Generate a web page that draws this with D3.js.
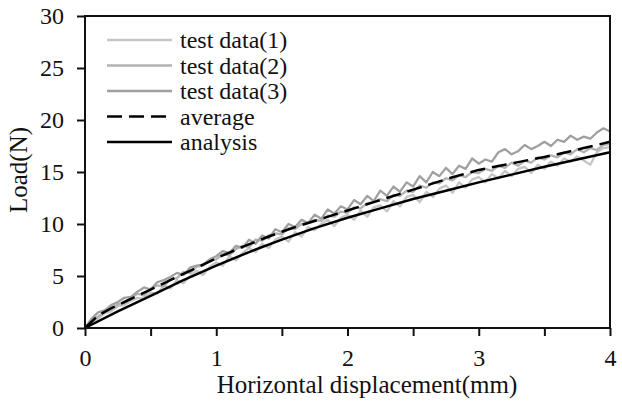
<!DOCTYPE html>
<html>
<head>
<meta charset="utf-8">
<script src="https://cdn.jsdelivr.net/npm/d3@7"></script>
<style>
  body { margin: 0; background: #fff; }
  text { font-family: "Liberation Serif", "Times New Roman", serif; fill: #111; }
</style>
</head>
<body>
<div class="home"></div>
<script>
const width = 622;
const height = 403;

// load readings, one every 0.05 mm from 0 to 4 mm
const test1 = [0, 0.5, 0.9, 1.4, 1.6, 2.1, 2.2, 2.6, 2.9, 2.8, 3.4, 3.3, 4.1, 3.8, 4.6, 4.3, 5.0, 5.5, 5.1, 5.9,
  6.3, 6.0, 6.9, 6.5, 7.2, 7.7, 7.3, 8.1, 7.7, 8.5, 8.8, 8.3, 9.2, 8.8, 9.7, 9.4, 10.0, 10.4, 9.8, 10.6,
  10.9, 10.4, 11.3, 10.7, 11.6, 11.8, 11.2, 12.2, 11.7, 12.6, 12.8, 12.1, 13.1, 12.6, 13.4, 13.7, 13.0, 14.0, 13.5, 14.3,
  14.5, 14.0, 14.8, 14.4, 15.1, 14.6, 15.3, 15.5, 14.9, 15.7, 15.3, 16.0, 15.6, 16.3, 16.0, 16.5, 16.1, 15.7, 16.9, 17.3, 17.4];
const test2 = [0, 0.8, 1.1, 1.6, 1.8, 2.3, 2.4, 2.9, 3.3, 3.1, 3.8, 4.1, 4.0, 4.7, 4.8, 5.4, 5.3, 5.9, 6.0, 6.5,
  6.6, 7.1, 7.0, 7.6, 7.9, 7.8, 8.5, 8.4, 8.9, 9.1, 9.0, 9.6, 9.5, 10.0, 10.1, 10.4, 10.3, 10.8, 10.7, 11.2,
  11.1, 11.6, 11.5, 12.0, 12.1, 12.4, 12.2, 12.8, 12.7, 13.2, 13.1, 13.7, 13.5, 14.0, 13.9, 14.4, 14.2, 14.7, 14.5, 15.0,
  14.9, 15.3, 15.1, 15.6, 15.4, 15.9, 15.6, 16.1, 15.9, 16.4, 16.2, 16.6, 16.4, 16.9, 16.7, 17.2, 16.9, 17.3, 17.1, 17.6, 17.7];
const test3 = [0, 0.9, 1.5, 1.7, 2.2, 2.5, 2.9, 3.0, 3.5, 3.9, 3.7, 4.4, 4.6, 4.9, 5.3, 5.1, 5.8, 6.0, 6.1, 6.6,
  6.9, 7.4, 7.2, 7.9, 7.7, 8.5, 8.1, 8.9, 8.6, 9.5, 9.2, 10.0, 9.7, 10.4, 10.1, 10.9, 10.5, 11.4, 11.0, 11.7,
  11.4, 12.3, 11.9, 12.7, 12.2, 13.2, 12.7, 13.6, 13.1, 14.0, 13.6, 14.6, 14.0, 15.0, 14.6, 15.4, 14.8, 15.6, 15.3, 16.3,
  15.8, 16.2, 16.0, 16.9, 17.2, 16.7, 17.0, 17.6, 17.2, 17.5, 17.9, 17.5, 18.1, 17.9, 18.5, 18.1, 18.4, 18.2, 18.8, 19.2, 18.9];
const testStep = 0.05;

// average of the tests, every 0.1 mm
const average = [0, 1.2, 1.9, 2.5, 3.1, 3.7, 4.3, 4.9, 5.5, 6.1, 6.7, 7.25, 7.8, 8.3, 8.8, 9.25, 9.7, 10.1, 10.5, 10.9,
  11.3, 11.7, 12.1, 12.5, 12.9, 13.3, 13.7, 14.1, 14.5, 14.85, 15.2, 15.45, 15.7, 15.95, 16.2, 16.45, 16.7, 17.0, 17.3, 17.6, 17.9];
const averageStep = 0.1;

// analysis curve, every 0.25 mm
const analysis = [0, 1.6, 3.1, 4.6, 6.0, 7.3, 8.5, 9.6, 10.6, 11.5, 12.4, 13.2, 14.0, 14.75, 15.5, 16.2, 16.9];
const analysisStep = 0.25;

const xTicks = [0, 0.5, 1, 1.5, 2, 2.5, 3, 3.5, 4];
const yTicks = [0, 5, 10, 15, 20, 25, 30];
const legendNames = ["test data(1)", "test data(2)", "test data(3)", "average", "analysis"];

const svg = d3.select(".home").append("svg")
  .attr("width", width)
  .attr("height", height);

const x = d3.scaleLinear().domain([0, 4]).range([85, 610]);
const y = d3.scaleLinear().domain([0, 30]).range([328, 16]);

const toPoints = (arr, step) => arr.map((v, i) => [i * step, v]);
const line = d3.line().x(d => x(d[0])).y(d => y(d[1]));

const series = [
  {name: legendNames[0], pts: toPoints(test1, testStep), color: "#c6c6c6", w: 2.3, dash: null},
  {name: legendNames[1], pts: toPoints(test2, testStep), color: "#b2b2b2", w: 2.3, dash: null},
  {name: legendNames[2], pts: toPoints(test3, testStep), color: "#a0a0a0", w: 2.3, dash: null},
  {name: legendNames[3], pts: toPoints(average, averageStep), color: "#000", w: 2.5, dash: "15,7"},
  {name: legendNames[4], pts: toPoints(analysis, analysisStep), color: "#000", w: 2.5, dash: null}
];

// curves
svg.selectAll("path.curve")
  .data(series)
  .enter()
  .append("path")
  .attr("class", "curve")
  .attr("d", d => line(d.pts))
  .attr("fill", "none")
  .attr("stroke", d => d.color)
  .attr("stroke-width", d => d.w)
  .attr("stroke-dasharray", d => d.dash)
  .attr("stroke-linejoin", "round");

// frame
svg.append("rect")
  .attr("x", x(0)).attr("y", y(30))
  .attr("width", x(4) - x(0)).attr("height", y(0) - y(30))
  .attr("fill", "none").attr("stroke", "#111").attr("stroke-width", 2);

// axes
const xAxis = svg.append("g")
  .attr("transform", "translate(0," + y(0) + ")")
  .call(d3.axisBottom(x).tickValues(xTicks)
    .tickFormat(d => Number.isInteger(d) ? d : "")
    .tickSize(8).tickSizeOuter(0).tickPadding(13));
const yAxis = svg.append("g")
  .attr("transform", "translate(" + x(0) + ",0)")
  .call(d3.axisLeft(y).tickValues(yTicks).tickSize(8).tickSizeOuter(0).tickPadding(13));

[xAxis, yAxis].forEach(g => {
  g.select(".domain").remove();
  g.selectAll("line").attr("stroke", "#111").attr("stroke-width", 2);
  g.selectAll("text").attr("font-size", 24).attr("font-family", "Liberation Serif").attr("fill", "#111");
});

// axis titles
svg.append("text")
  .attr("x", 367).attr("y", 393)
  .attr("text-anchor", "middle")
  .attr("font-size", 25)
  .text("Horizontal displacement(mm)");
svg.append("text")
  .attr("transform", "translate(27,170) rotate(-90)")
  .attr("text-anchor", "middle")
  .attr("font-size", 25)
  .text("Load(N)");

// legend
const legend = svg.append("g");
series.forEach((s, i) => {
  const ly = 40 + i * 25.5;
  legend.append("line")
    .attr("x1", 107).attr("x2", 172).attr("y1", ly).attr("y2", ly)
    .attr("stroke", s.color).attr("stroke-width", s.w)
    .attr("stroke-dasharray", s.dash);
  legend.append("text")
    .attr("x", 180).attr("y", ly + 8)
    .attr("font-size", 24)
    .text(s.name);
});
</script>
</body>
</html>
